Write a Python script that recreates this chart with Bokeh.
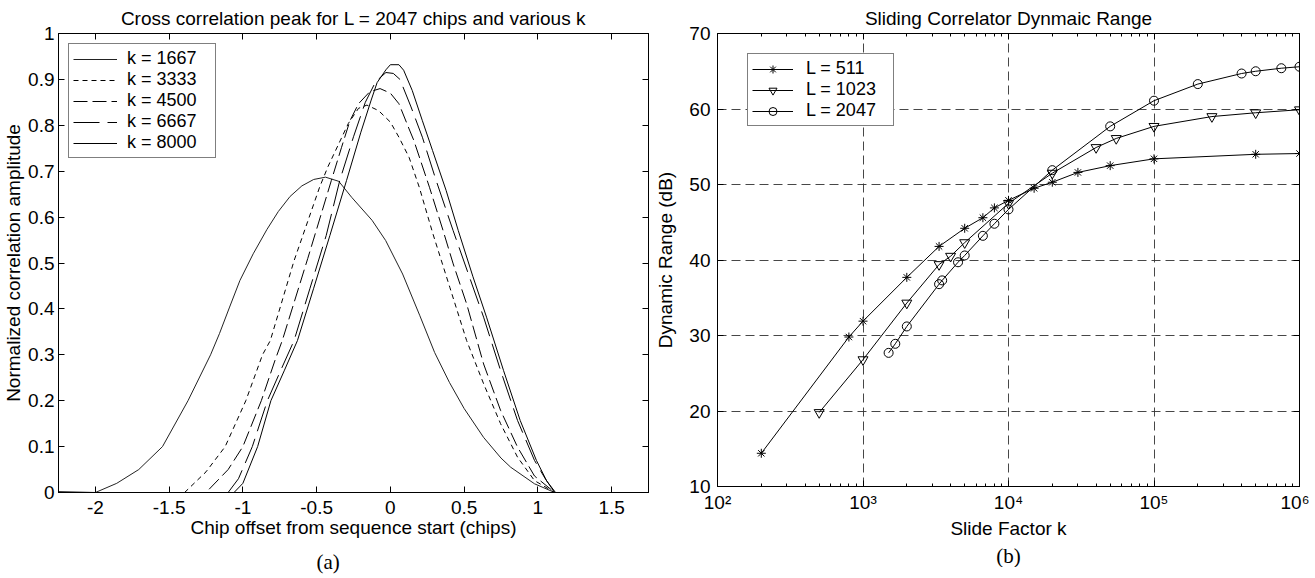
from bokeh.plotting import figure
from bokeh.layouts import row
from bokeh.models import LinearAxis, LogAxis, FixedTicker, Title
from bokeh.embed import file_html
from bokeh.resources import INLINE

# ---------------- data: panel (a) ----------------
x_ticks_a = [-2, -1.5, -1, -0.5, 0, 0.5, 1, 1.5]
x_labels_a = ["-2", "-1.5", "-1", "-0.5", "0", "0.5", "1", "1.5"]
y_ticks_a = [0, 0.1, 0.2, 0.3, 0.4, 0.5, 0.6, 0.7, 0.8, 0.9, 1]
y_labels_a = ["0", "0.1", "0.2", "0.3", "0.4", "0.5", "0.6", "0.7", "0.8", "0.9", "1"]

k_labels_a = ["k = 1667", "k = 3333", "k = 4500", "k = 6667", "k = 8000"]

x_1667 = [-2.25, -2.0, -1.855, -1.706, -1.545, -1.372, -1.219, -1.159, -1.09, -1.02, -0.93,
          -0.837, -0.76, -0.68, -0.6, -0.52, -0.44, -0.35, -0.262, -0.124, -0.032, 0.083, 0.2,
          0.3, 0.4, 0.5, 0.632, 0.75, 0.816, 0.977, 1.114, 1.75]
y_1667 = [0.002, 0.0, 0.02, 0.05, 0.1, 0.2, 0.3, 0.346, 0.404, 0.462, 0.52,
          0.573, 0.612, 0.645, 0.668, 0.682, 0.687, 0.678, 0.643, 0.593, 0.549, 0.476, 0.385,
          0.305, 0.24, 0.183, 0.12, 0.075, 0.055, 0.019, 0.0, 0.0]

x_3333 = [-2.25, -1.395, -1.25, -1.12, -0.98, -0.867, -0.814, -0.653, -0.48, -0.423, -0.285,
          -0.216, -0.159, -0.08, 0.0, 0.058, 0.127, 0.196, 0.288, 0.403, 0.517, 0.632,
          0.747, 0.862, 0.977, 1.114, 1.75]
y_3333 = [0.0, 0.0, 0.045, 0.1, 0.2, 0.3, 0.331, 0.505, 0.665, 0.71, 0.804,
          0.837, 0.844, 0.832, 0.807, 0.774, 0.730, 0.665, 0.564, 0.447, 0.331, 0.237,
          0.150, 0.077, 0.026, 0.0, 0.0]

x_4500 = [-2.25, -1.25, -1.1, -1.0, -0.875, -0.78, -0.733, -0.56, -0.40, -0.331, -0.274,
          -0.216, -0.14, -0.07, 0.0, 0.058, 0.127, 0.159, 0.265, 0.357, 0.426, 0.517,
          0.632, 0.747, 0.862, 0.977, 1.114, 1.75]
y_4500 = [0.0, 0.0, 0.05, 0.1, 0.2, 0.29, 0.331, 0.51, 0.68, 0.752, 0.81,
          0.847, 0.873, 0.88, 0.87, 0.847, 0.792, 0.767, 0.665, 0.571, 0.498, 0.411,
          0.280, 0.179, 0.099, 0.036, 0.0, 0.0]

x_6667 = [-2.25, -1.10, -1.03, -0.936, -0.834, -0.745, -0.653, -0.545, -0.435, -0.343, -0.25,
          -0.17, -0.1, -0.03, 0.02, 0.065, 0.14, 0.217, 0.31, 0.425, 0.53, 0.632,
          0.747, 0.862, 0.977, 1.05, 1.114, 1.75]
y_6667 = [0.0, 0.0, 0.03, 0.1, 0.2, 0.265, 0.331, 0.445, 0.56, 0.68, 0.775,
          0.85, 0.895, 0.915, 0.913, 0.9, 0.84, 0.774, 0.68, 0.571, 0.475, 0.382,
          0.266, 0.157, 0.07, 0.03, 0.0, 0.0]

x_8000 = [-2.25, -1.06, -1.0, -0.9, -0.81, -0.72, -0.63, -0.52, -0.41, -0.297, -0.2,
          -0.13, -0.09, -0.03, 0.0, 0.058, 0.09, 0.148, 0.217, 0.286, 0.378, 0.46,
          0.56, 0.652, 0.767, 0.88, 0.99, 1.06, 1.12, 1.75]
y_8000 = [0.0, 0.0, 0.02, 0.1, 0.2, 0.265, 0.331, 0.445, 0.56, 0.68, 0.785,
          0.855, 0.893, 0.921, 0.932, 0.932, 0.92, 0.876, 0.81, 0.745, 0.658, 0.571,
          0.47, 0.382, 0.266, 0.157, 0.07, 0.025, 0.0, 0.0]

# ---------------- data: panel (b) ----------------
x_ticks_b = [1e2, 1e3, 1e4, 1e5, 1e6]
x_labels_b = ["10\u00b2", "10\u00b3", "10\u2074", "10\u2075", "10\u2076"]
y_ticks_b = [10, 20, 30, 40, 50, 60, 70]

k_511 = [200, 800, 1000, 2000, 3333, 5000, 6667, 8000, 10000, 15000, 20000, 30000,
         50000, 100000, 500000, 1000000]
dr_511 = [14.4, 29.8, 31.9, 37.7, 41.8, 44.2, 45.6, 46.9, 47.9, 49.5, 50.3, 51.6,
          52.5, 53.4, 54.0, 54.1]

k_1023 = [500, 1000, 2000, 3333, 4000, 5000, 10000, 20000, 40000, 55000, 100000,
          250000, 500000, 1000000]
dr_1023 = [19.8, 26.8, 34.3, 39.4, 40.5, 42.3, 47.5, 51.5, 54.9, 56.1, 57.7,
           59.0, 59.5, 59.9]

k_2047 = [1500, 1667, 2000, 3333, 3500, 4500, 5000, 6667, 8000, 10000, 20000, 50000,
          100000, 200000, 400000, 500000, 750000, 1000000]
dr_2047 = [27.7, 28.9, 31.2, 36.8, 37.3, 39.7, 40.6, 43.2, 44.8, 46.7, 51.9, 57.7,
           61.1, 63.3, 64.7, 65.0, 65.4, 65.6]

L_labels_b = ["L = 511", "L = 1023", "L = 2047"]

# ---------------- styling helpers ----------------
FONT = "Liberation Sans"
FS = "19px"
LFS = "18px"


def style_axis(ax, labels=True):
    ax.axis_line_color = "black"
    ax.axis_line_width = 1
    ax.major_tick_in = 6
    ax.major_tick_out = 0
    ax.minor_tick_in = 3
    ax.minor_tick_out = 0
    ax.major_tick_line_color = "black"
    ax.minor_tick_line_color = "black"
    ax.major_label_text_font = FONT
    ax.major_label_text_font_size = FS
    ax.major_label_text_color = "black"
    ax.axis_label_text_font = FONT
    ax.axis_label_text_font_size = FS
    ax.axis_label_text_font_style = "normal"
    ax.axis_label_text_color = "black"
    if not labels:
        ax.major_label_text_font_size = "1px"
        ax.major_label_text_color = None
        ax.major_label_standoff = 0


def style_title(p):
    p.title.align = "center"
    p.title.text_font = FONT
    p.title.text_font_size = FS
    p.title.text_font_style = "normal"
    p.title.text_color = "black"
    p.title.standoff = 10


def style_legend(lg):
    lg.border_line_color = "black"
    lg.border_line_width = 1.5
    lg.label_text_font = FONT
    lg.label_text_font_size = LFS
    lg.label_text_color = "black"
    lg.background_fill_color = "white"
    lg.background_fill_alpha = 1
    lg.spacing = 0


# ---------------- panel (a) ----------------
p1 = figure(frame_width=590, frame_height=459, x_range=(-2.25, 1.75), y_range=(0, 1),
            output_backend="svg", toolbar_location=None,
            min_border_left=54, min_border_right=4, min_border_top=32, min_border_bottom=60)
p1.title.text = "Cross correlation peak for L = 2047 chips and various k"
style_title(p1)
p1.grid.visible = False
p1.outline_line_color = "black"
p1.outline_line_width = 1

p1.xaxis.ticker = FixedTicker(ticks=x_ticks_a)
p1.xaxis.major_label_overrides = dict(zip(x_ticks_a, x_labels_a))
p1.yaxis.ticker = FixedTicker(ticks=y_ticks_a)
p1.yaxis.major_label_overrides = dict(zip(y_ticks_a, y_labels_a))
p1.xaxis.axis_label = "Chip offset from sequence start (chips)"
p1.yaxis.axis_label = "Normalized correlation amplitude"
style_axis(p1.xaxis[0])
style_axis(p1.yaxis[0])
p1.xaxis.major_label_standoff = 8
p1.yaxis.major_label_standoff = 4
p1.xaxis.axis_label_standoff = 0
p1.yaxis.axis_label_standoff = 1

top1 = LinearAxis(ticker=FixedTicker(ticks=x_ticks_a))
style_axis(top1, labels=False)
p1.add_layout(top1, "above")
right1 = LinearAxis(ticker=FixedTicker(ticks=y_ticks_a))
style_axis(right1, labels=False)
p1.add_layout(right1, "right")

curves = [(x_1667, y_1667, "#222222", "solid"),
          (x_3333, y_3333, "black", "5 4"),
          (x_4500, y_4500, "black", "14 5"),
          (x_6667, y_6667, "black", "26 8"),
          (x_8000, y_8000, "black", "solid")]
for (xs, ys, col, dash), lab in zip(curves, k_labels_a):
    p1.line(xs, ys, line_color=col, line_width=1, line_dash=dash, legend_label=lab)

lg1 = p1.legend[0]
style_legend(lg1)
lg1.location = "top_left"
lg1.margin = 10
lg1.padding = 4
lg1.label_height = 20
lg1.glyph_height = 20
lg1.glyph_width = 44
lg1.label_standoff = 10
lg1.label_width = 84

cap_a = Title(text="(a)", align="left", text_font="Liberation Serif",
              text_font_size="21px", text_font_style="normal", text_color="black",
              offset=258, standoff=14)
p1.add_layout(cap_a, "below")

# ---------------- panel (b) ----------------
p2 = figure(frame_width=582, frame_height=453, x_axis_type="log",
            x_range=(1e2, 1e6), y_range=(10, 70),
            output_backend="svg", toolbar_location=None,
            min_border_left=61, min_border_right=10, min_border_top=32, min_border_bottom=60)
p2.title.text = "Sliding Correlator Dynmaic Range"
style_title(p2)
p2.outline_line_color = "black"
p2.outline_line_width = 1

minor_b = [m * 10 ** e for e in range(2, 6) for m in range(2, 10)]
p2.xaxis.ticker = FixedTicker(ticks=x_ticks_b, minor_ticks=minor_b)
p2.xaxis.major_label_overrides = dict(zip(x_ticks_b, x_labels_b))
p2.yaxis.ticker = FixedTicker(ticks=y_ticks_b)
p2.xaxis.axis_label = "Slide Factor k"
p2.yaxis.axis_label = "Dynamic Range (dB)"
style_axis(p2.xaxis[0])
style_axis(p2.yaxis[0])
p2.xaxis.major_label_standoff = 5
p2.yaxis.major_label_standoff = 7
p2.xaxis.axis_label_standoff = 2
p2.yaxis.axis_label_standoff = 10

top2 = LogAxis(ticker=FixedTicker(ticks=x_ticks_b, minor_ticks=minor_b))
style_axis(top2, labels=False)
p2.add_layout(top2, "above")
right2 = LinearAxis(ticker=FixedTicker(ticks=y_ticks_b))
style_axis(right2, labels=False)
p2.add_layout(right2, "right")

p2.xgrid.ticker = FixedTicker(ticks=x_ticks_b)
p2.ygrid.ticker = FixedTicker(ticks=y_ticks_b)
p2.grid.grid_line_color = "#333333"
p2.grid.grid_line_dash = "9 5"
p2.grid.grid_line_width = 1
p2.grid.grid_line_alpha = 0.9

series_b = [(k_511, dr_511, "asterisk", 9),
            (k_1023, dr_1023, "inverted_triangle", 10),
            (k_2047, dr_2047, "circle", 9)]
for (ks, ds, mk, sz), lab in zip(series_b, L_labels_b):
    p2.line(ks, ds, line_color="black", line_width=1, legend_label=lab)
    p2.scatter(ks, ds, marker=mk, size=sz, line_color="black", line_width=1,
               fill_color=None, legend_label=lab)

lg2 = p2.legend[0]
style_legend(lg2)
lg2.margin = 0
lg2.padding = 4
lg2.label_height = 20
lg2.glyph_height = 20
lg2.glyph_width = 41
lg2.label_standoff = 13
lg2.label_width = 83
lg2.location = (30, 453 - 22 - 71)

cap_b = Title(text="(b)", align="center", text_font="Liberation Serif",
              text_font_size="21px", text_font_style="normal", text_color="black",
              standoff=0)
p2.add_layout(cap_b, "below")

layout = row(p1, p2)
open("out.html", "w").write(file_html(layout, INLINE))
